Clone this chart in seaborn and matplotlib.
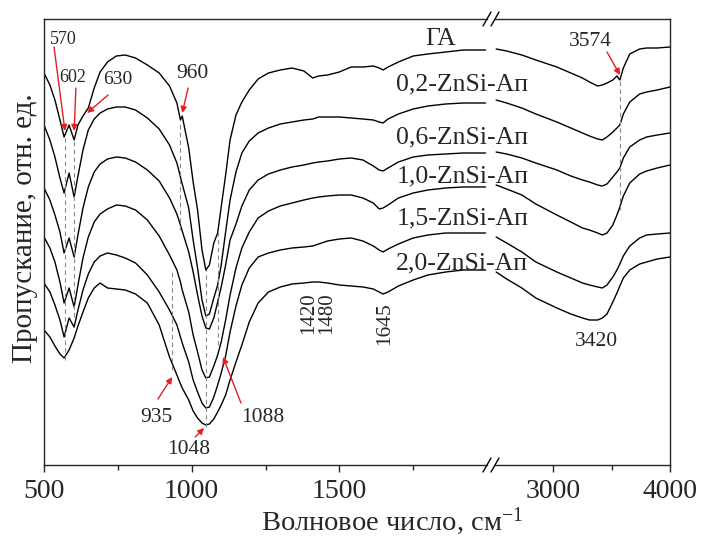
import matplotlib
matplotlib.use("Agg")
import matplotlib.pyplot as plt
from matplotlib.lines import Line2D
import pandas as pd
import seaborn as sns

# Wavenumber grids (cm^-1) for the two parts of the broken axis
wn_low = [500, 520, 537, 554, 568, 585, 602, 615, 632, 650,
          670, 690, 715, 745, 775, 810, 850, 890, 925, 950,
          962, 968, 990, 1005, 1020, 1035, 1048, 1060, 1075, 1088,
          1100, 1115, 1130, 1150, 1170, 1195, 1225, 1260, 1300, 1340,
          1380, 1410, 1430, 1460, 1500, 1540, 1580, 1615, 1635, 1648,
          1665, 1700, 1750, 1800, 1860, 1920, 1995]
wn_high = [2510, 2600, 2730, 2850, 3030, 3150, 3250, 3310, 3380, 3420,
           3460, 3510, 3545, 3570, 3600, 3655, 3740, 3800, 3890, 4000]

# Transmittance (arb. units), spectra stacked with vertical offsets
ha_low = [392, 380, 365, 345, 328, 340, 325, 340, 349, 357,
          377, 393, 403, 409, 410, 407, 400, 392, 379, 362,
          345, 349, 317, 283, 255, 215, 195, 200, 222, 232,
          258, 290, 325, 350, 363, 375, 386, 392, 395, 397,
          394, 387, 389, 390, 393, 398, 398, 399, 397, 395,
          398, 403, 409, 411, 413, 415, 415]
ha_high = [416, 414, 410, 405, 398, 392, 387, 383, 379, 380,
           382, 385, 389, 385, 397, 411, 416, 417, 417, 418]

zs02_low = [340, 325, 308, 287, 272, 292, 268, 289, 315, 335,
            346, 352, 356, 358, 358, 355, 347, 336, 320, 302,
            288, 281, 257, 225, 197, 165, 149, 151, 167, 180,
            200, 233, 265, 293, 312, 324, 332, 337, 341, 343,
            345, 346, 348, 348, 348, 347, 346, 345, 343, 342,
            346, 351, 356, 359, 361, 362, 362]
zs02_high = [365, 362, 357, 351, 343, 337, 332, 329, 326, 325,
             328, 333, 337, 340, 351, 363, 371, 373, 375, 378]

zs06_low = [277, 265, 250, 233, 212, 227, 208, 230, 257, 278,
            293, 301, 306, 308, 307, 303, 295, 284, 267, 251,
            240, 234, 213, 193, 170, 149, 137, 136, 147, 163,
            178, 200, 225, 241, 259, 275, 285, 291, 295, 298,
            300, 302, 303, 304, 306, 307, 305, 299, 295, 294,
            297, 303, 308, 310, 311, 312, 312]
zs06_high = [313, 311, 307, 302, 295, 289, 285, 283, 280, 279,
             281, 288, 293, 297, 307, 318, 325, 328, 330, 332]

zs10_low = [228, 217, 203, 183, 162, 177, 158, 180, 207, 228,
            243, 251, 256, 260, 259, 255, 245, 229, 210, 195,
            183, 175, 153, 130, 113, 95, 87, 88, 99, 110,
            123, 145, 170, 197, 217, 233, 247, 254, 259, 262,
            265, 267, 268, 269, 270, 270, 267, 262, 256, 257,
            260, 267, 272, 275, 277, 278, 278]
zs10_high = [280, 276, 270, 261, 250, 243, 237, 235, 232, 230,
             232, 240, 250, 258, 269, 282, 291, 294, 297, 300]

zs15_low = [182, 173, 160, 145, 128, 147, 138, 155, 175, 191,
            203, 209, 212, 210, 207, 202, 190, 173, 155, 140,
            128, 122, 103, 85, 73, 62, 57, 58, 68, 80,
            92, 109, 133, 159, 180, 197, 208, 212, 215, 217,
            218, 219, 221, 224, 226, 227, 224, 219, 215, 213,
            216, 221, 227, 230, 232, 232, 232]
zs15_high = [228, 222, 213, 203, 193, 187, 182, 180, 178, 177,
             180, 188, 195, 201, 209, 219, 227, 230, 231, 232]

zs20_low = [135, 128, 119, 111, 107, 115, 127, 139, 153, 167,
            177, 182, 177, 176, 175, 171, 162, 140, 108, 90,
            81, 77, 65, 54, 47, 42, 40, 41, 46, 53,
            60, 70, 85, 103, 120, 143, 162, 173, 178, 181,
            182, 183, 183, 182, 180, 179, 178, 176, 173, 171,
            173, 179, 185, 190, 193, 195, 195]
zs20_high = [193, 186, 177, 167, 157, 151, 147, 145, 145, 147,
             151, 163, 172, 179, 187, 195, 201, 203, 206, 208]

samples = ["ГА", "0,2-ZnSi-Ап", "0,6-ZnSi-Ап", "1,0-ZnSi-Ап", "1,5-ZnSi-Ап", "2,0-ZnSi-Ап"]
low_series = [ha_low, zs02_low, zs06_low, zs10_low, zs15_low, zs20_low]
high_series = [ha_high, zs02_high, zs06_high, zs10_high, zs15_high, zs20_high]

# Band positions marked with dashed guides: (wavenumber, lower, upper)
guides_low = [(570, 105, 328), (602, 148, 325), (935, 95, 195),
              (960, 235, 342), (1048, 38, 195), (1088, 120, 235)]
guides_high = [(3574, 255, 387)]


def long_frame(wn, series):
    parts = [pd.DataFrame({"wn": wn, "T": t, "sample": s}) for s, t in zip(samples, series)]
    return pd.concat(parts, ignore_index=True)


df_low = long_frame(wn_low, low_series)
df_high = long_frame(wn_high, high_series)

sns.set_style("ticks")
plt.rcParams["font.family"] = ["Liberation Serif", "DejaVu Serif"]
plt.rcParams["mathtext.default"] = "regular"

W, H = 702, 545
fig = plt.figure(figsize=(W / 100, H / 100), dpi=100)
bottom = (H - 465) / H
height = 446 / H
ax1 = fig.add_axes([44 / W, bottom, 443 / W, height])
ax2 = fig.add_axes([495 / W, bottom, 175 / W, height])

for ax, df in ((ax1, df_low), (ax2, df_high)):
    ax.set_facecolor("none")
    sns.lineplot(data=df, x="wn", y="T", units="sample", estimator=None,
                 color="black", lw=1.0, sort=False, ax=ax)
    ax.set_ylim(0, 446)
    ax.set_xlabel("")
    ax.set_ylabel("")
    ax.tick_params(axis="y", left=False, labelleft=False)
    ax.tick_params(axis="x", which="major", direction="out", length=5,
                   width=1.0, labelsize=20, pad=5)
    ax.tick_params(axis="x", which="minor", direction="out", length=3.5, width=1.0)
    for sp in ax.spines.values():
        sp.set_linewidth(1.0)

ax1.set_xlim(500, 2000)
ax1.set_xticks([500, 1000, 1500])
ax1.set_xticks([750, 1250, 1750], minor=True)
ax1.spines["right"].set_visible(False)

ax2.set_xlim(2500, 4000)
ax2.set_xticks([3000, 4000])
ax2.set_xticks([3500], minor=True)
ax2.spines["left"].set_visible(False)

# dashed guides at band positions
for x, lo, hi in guides_low:
    ax1.vlines(x, lo, hi, colors="#8a8a8a", linestyles=(0, (4, 3)), lw=0.8)
for x, lo, hi in guides_high:
    ax2.vlines(x, lo, hi, colors="#8a8a8a", linestyles=(0, (4, 3)), lw=0.8)

# band labels with red arrows
red = "#e3201f"
arrow = dict(arrowstyle="-|>", color=red, lw=1.0, mutation_scale=9, shrinkA=0, shrinkB=0)
ax1.annotate("", xy=(571, 334), xytext=(534, 418), arrowprops=arrow)
ax1.annotate("", xy=(602, 334), xytext=(608, 377), arrowprops=arrow)
ax1.annotate("", xy=(646, 352), xytext=(717, 370), arrowprops=arrow)
ax1.annotate("", xy=(968, 352), xytext=(988, 377), arrowprops=arrow)
ax1.annotate("", xy=(934, 88), xytext=(886, 66), arrowprops=arrow)
ax1.annotate("", xy=(1042, 37), xytext=(1012, 28), arrowprops=arrow)
ax1.annotate("", xy=(1106, 108), xytext=(1167, 62), arrowprops=arrow)
ax2.annotate("", xy=(3571, 390), xytext=(3460, 413), arrowprops=arrow)

ax1.text(564, 425, "570", fontsize=13, ha="center", va="center")
ax1.text(598, 388, "602", fontsize=13, ha="center", va="center")
ax1.text(751, 386, "630", fontsize=14, ha="center", va="center")
ax1.text(1001, 392, "960", fontsize=15.5, ha="center", va="center")
ax1.text(879, 48, "935", fontsize=15.5, ha="center", va="center")
ax1.text(991, 15, "1048", fontsize=15.5, ha="center", va="center")
ax1.text(1242, 48, "1088", fontsize=15.5, ha="center", va="center")
ax1.text(1397, 152, "1420", fontsize=15, ha="center", va="center", rotation=90)
ax1.text(1456, 152, "1480", fontsize=15, ha="center", va="center", rotation=90)
ax1.text(1652, 141, "1645", fontsize=15.5, ha="center", va="center", rotation=90)
ax2.text(3314, 424, "3574", fontsize=15.5, ha="center", va="center")
ax2.text(3366, 123, "3420", fontsize=15.5, ha="center", va="center")

# sample names, placed across the axis break
label_y = [426, 381, 328, 289, 247, 202]
label_x = [1842, 1916, 1916, 1916, 1916, 1916]
for name, lx, ly in zip(samples, label_x, label_y):
    ax1.text(lx, ly, name, fontsize=18.5, ha="center", va="center",
             clip_on=False, zorder=5)

# axis-break marks
for cx in (487, 495):
    for cy in (465, 19):
        yb = H - cy
        fig.add_artist(Line2D([(cx - 4) / W, (cx + 4) / W], [(yb - 7) / H, (yb + 7) / H],
                              transform=fig.transFigure, color="black", lw=1.0))

fig.text(25 / W, 1 - 228 / H, "Пропускание, отн. ед.", rotation=90,
         ha="center", va="center", fontsize=21)
fig.text(392 / W, 1 - 521 / H, "Волновое число, см$^{-1}$",
         ha="center", va="center", fontsize=20.5)

fig.savefig("out.png", dpi=100)
